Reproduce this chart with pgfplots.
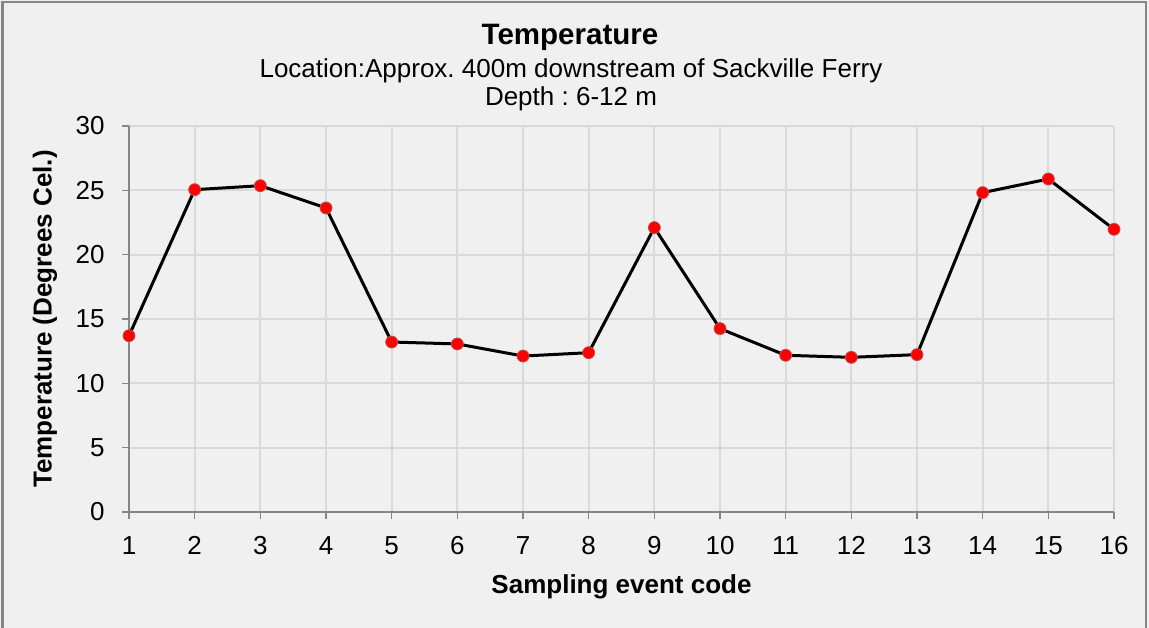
\documentclass[border=0pt]{standalone}
\usepackage{pgfplots}
\pgfplotsset{compat=1.18}
\usepackage{fontspec}
\setmainfont{Liberation Sans}
\frenchspacing
\definecolor{bgc}{HTML}{F0F0F0}
\definecolor{bordc}{HTML}{868686}
\definecolor{gridc}{HTML}{D9D9D9}
\definecolor{axc}{HTML}{868686}
\definecolor{mkedge}{HTML}{C0504D}
\pgfplotstableread{
x y
1 13.70
2 25.05
3 25.36
4 23.63
5 13.21
6 13.06
7 12.12
8 12.38
9 22.10
10 14.25
11 12.18
12 12.02
13 12.23
14 24.82
15 25.88
16 21.97
}\temps
\begin{document}
\begin{tikzpicture}[x=1bp,y=1bp]
\useasboundingbox (0,0) rectangle (1149,628);
\fill[bgc] (0,0) rectangle (1149,628);
\draw[bordc, line width=2bp] (2.5,-5) -- (2.5,626) -- (1145.5,626) -- (1145.5,-5);
\node[font=\fontsize{29.5bp}{35bp}\selectfont\bfseries] at (570,591) {Temperature};
\node[font=\fontsize{26bp}{31bp}\selectfont] at (571,557) {Location:Approx. 400m downstream of Sackville Ferry};
\node[font=\fontsize{26bp}{31bp}\selectfont] at (571,529) {Depth : 6-12 m};
\begin{axis}[
  at={(129bp,116bp)}, anchor=south west,
  scale only axis, width=985bp, height=386bp,
  xmin=1, xmax=16, ymin=0, ymax=30,
  xtick={1,...,16}, ytick={0,5,...,30},
  axis x line=bottom, axis y line=left,
  axis line style={axc, line width=1.5bp, -},
  grid=major,
  major grid style={gridc, line width=1.8bp},
  tick style={axc, line width=1.5bp},
  tick align=outside,
  major tick length=7bp,
  /pgf/number format/assume math mode=true,
  tick label style={font=\fontsize{26bp}{31bp}\selectfont, text=black},
  xticklabel style={yshift=-14bp},
  yticklabel style={xshift=-14bp},
  xlabel={Sampling event code},
  ylabel={Temperature (Degrees Cel.)},
  label style={font=\fontsize{26bp}{31bp}\selectfont\bfseries},
  xlabel style={at={(axis description cs:0.5,-0.194)}, anchor=center},
  ylabel style={at={(axis description cs:-0.0853,0.5)}, anchor=center, rotate=0},
  clip=false,
]
\addplot[black, line width=3bp, mark=*, mark size=6bp,
  mark options={fill=red, draw=mkedge, line width=0.8bp}] table[x=x,y=y] {\temps};
\end{axis}
\end{tikzpicture}
\end{document}
